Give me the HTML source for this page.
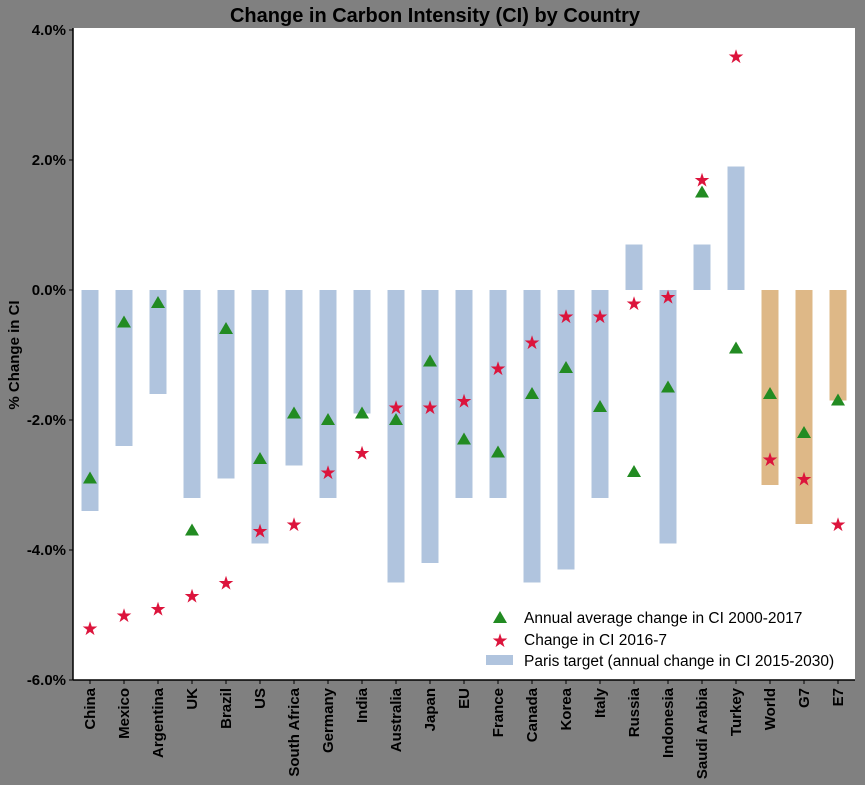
<!DOCTYPE html>
<html><head><meta charset="utf-8"><style>
body{margin:0;background:#808080;}
svg{display:block;font-family:"Liberation Sans",sans-serif;}
</style></head><body>
<svg id="chart" width="865" height="785">
<rect x="0" y="0" width="865" height="785" fill="#808080"/>
<rect x="73" y="28" width="782" height="652" fill="#fff"/>
<text x="435" y="22" text-anchor="middle" font-size="20" font-weight="bold">Change in Carbon Intensity (CI) by Country</text>
<text transform="translate(19,355) rotate(-90)" text-anchor="middle" font-size="15" font-weight="bold">% Change in CI</text>
<g id="bars"></g><g id="marks"></g><g id="axes"></g>
<g>
<polygon points="500,611 507,623 493,623" fill="#228b22"/>
<text x="524" y="623" font-size="15.5">Annual average change in CI 2000-2017</text>
<text x="500" y="647" font-size="19" fill="#dc143c" text-anchor="middle">★</text>
<text x="524" y="645" font-size="15.5">Change in CI 2016-7</text>
<rect x="486" y="655" width="27" height="10" fill="#b0c4de"/>
<text x="524" y="666" font-size="15.5">Paris target (annual change in CI 2015-2030)</text>
</g>
</svg>
<script>
const categories=["China","Mexico","Argentina","UK","Brazil","US","South Africa","Germany","India","Australia","Japan","EU","France","Canada","Korea","Italy","Russia","Indonesia","Saudi Arabia","Turkey","World","G7","E7"];
const parisTarget=[-3.4,-2.4,-1.6,-3.2,-2.9,-3.9,-2.7,-3.2,-1.9,-4.5,-4.2,-3.2,-3.2,-4.5,-4.3,-3.2,0.7,-3.9,0.7,1.9,-3.0,-3.6,-1.7];
const annualAvg=[-2.9,-0.5,-0.2,-3.7,-0.6,-2.6,-1.9,-2.0,-1.9,-2.0,-1.1,-2.3,-2.5,-1.6,-1.2,-1.8,-2.8,-1.5,1.5,-0.9,-1.6,-2.2,-1.7];
const change2016=[-5.2,-5.0,-4.9,-4.7,-4.5,-3.7,-3.6,-2.8,-2.5,-1.8,-1.8,-1.7,-1.2,-0.8,-0.4,-0.4,-0.2,-0.1,1.7,3.6,-2.6,-2.9,-3.6];
const yTicks=[4,2,0,-2,-4,-6];
const aggregates=["World","G7","E7"];
const NS="http://www.w3.org/2000/svg";
const y=v=>290-v*65;
const x=i=>90+i*34;
function mk(t,a,p){const e=document.createElementNS(NS,t);for(const k in a)e.setAttribute(k,a[k]);p.appendChild(e);return e;}
const bars=document.getElementById('bars'),marks=document.getElementById('marks'),axes=document.getElementById('axes');
categories.forEach((c,i)=>{
 const v=parisTarget[i];
 const b=mk('rect',{x:x(i)-8.5,y:Math.min(y(v),y(0)),width:17,height:Math.abs(y(v)-y(0)),fill:aggregates.includes(c)?'#deb887':'#b0c4de'},bars);
 
 
 const ty=y(annualAvg[i]);
 const t=mk('polygon',{points:`${x(i)},${ty-7} ${x(i)+7},${ty+5} ${x(i)-7},${ty+5}`,fill:'#228b22'},marks);
 
 
 const s=mk('text',{x:x(i),y:y(change2016[i])+7,'text-anchor':'middle','font-size':19,fill:'#dc143c'},marks);
 s.textContent='★';
 
 
 const tk=mk('line',{x1:x(i),x2:x(i),y1:680,y2:684,stroke:'#000'},axes);
 
 
 const l=mk('text',{transform:`translate(${x(i)+5},688) rotate(-90)`,'text-anchor':'end','font-size':15,'font-weight':'bold'},axes);
 l.textContent=c;
 
 
});
yTicks.forEach(v=>{
 const tk=mk('line',{x1:69,x2:73,y1:y(v),y2:y(v),stroke:'#000'},axes);
 
 
 const l=mk('text',{x:66,y:y(v)+5,'text-anchor':'end','font-size':15,'font-weight':'bold'},axes);
 l.textContent=v.toFixed(1)+'%';
 
 
});
const la=mk('line',{x1:73,x2:73,y1:28,y2:680,stroke:'#000','stroke-width':1.5},axes);


const lb=mk('line',{x1:73,x2:855,y1:680,y2:680,stroke:'#000','stroke-width':1.5},axes);


</script>
</body></html>
